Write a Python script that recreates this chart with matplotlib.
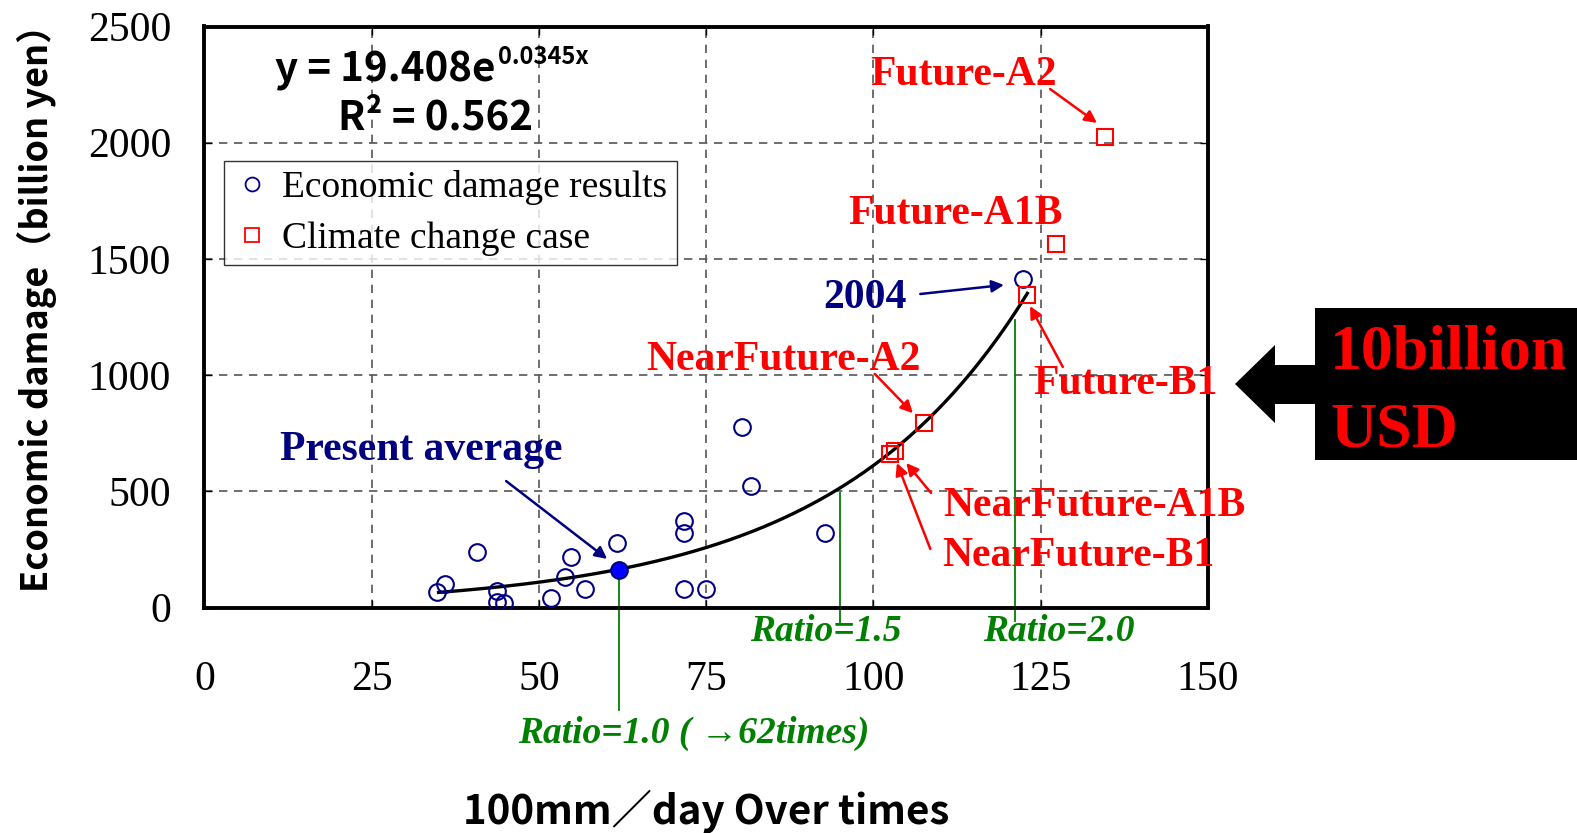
import numpy as np
import matplotlib.pyplot as plt
from matplotlib.lines import Line2D
from matplotlib.patches import Rectangle, Polygon

# observed flood damage (x: 100mm/day over times, y: billion yen)
damage_x = [34.7, 35.9, 40.7, 43.7, 43.7, 44.8, 51.8, 53.9, 54.8, 56.9,
            61.7, 71.7, 71.7, 71.7, 75.0, 80.3, 81.7, 92.8, 122.4]
damage_y = [68, 101, 239, 72, 25, 18, 40, 130, 216, 78,
            276, 373, 319, 78, 78, 778, 524, 319, 1412]

# present average (filled)
avg_x = 62.0
avg_y = 162

# climate change cases
case_names = ['Future-A2', 'Future-A1B', 'Future-B1',
              'NearFuture-A2', 'NearFuture-A1B', 'NearFuture-B1']
case_x = [134.6, 127.3, 123.0, 107.6, 103.2, 102.5]
case_y = [2023, 1565, 1345, 793, 673, 660]

# trend line y = a*exp(b*x)
fit_a = 19.408
fit_b = 0.0345
fit_range = [35.0, 123.0]

# ratio markers
ratio_labels = ['Ratio=1.0 ( \u219262times)', 'Ratio=1.5', 'Ratio=2.0']
ratio_x = [62.0, 95.0, 121.2]
ratio_top = [162, 494, 1237]
ratio_bottom = [-440, -70, -60]

xticks = [0, 25, 50, 75, 100, 125, 150]
yticks = [0, 500, 1000, 1500, 2000, 2500]

W, H = 1577, 833
fig = plt.figure(figsize=(W / 100, H / 100), dpi=100)
ax = fig.add_axes([204.4 / W, 1 - 607.5 / H, 1003.6 / W, 581 / H])

SERIF = 'Liberation Serif'
GOTHIC = 'Noto Sans CJK JP'

# trend line
xx = np.linspace(fit_range[0], fit_range[1], 200)
ax.plot(xx, fit_a * np.exp(fit_b * xx), color='black', lw=2.4, zorder=3)

# ratio lines
for rx, rt, rb in zip(ratio_x, ratio_top, ratio_bottom):
    ax.plot([rx, rx], [rb, rt], color='#008000', lw=1.3, clip_on=False, zorder=2)

ax.plot(damage_x, damage_y, 'o', ms=12, mfc='none', mec='#000080', mew=1.5, zorder=4)
ax.plot(case_x, case_y, 's', ms=12, mfc='none', mec='#ff0000', mew=1.5, zorder=4)
ax.plot([avg_x], [avg_y], 'o', ms=12, mfc='#0000ff', mec='#000080', mew=1.5, zorder=5)

ax.set_xlim(0, 150)
ax.set_ylim(0, 2500)
ax.set_xticks(xticks)
ax.set_yticks(yticks)
ax.tick_params(direction='in', length=6, width=1, top=True, right=True)
ax.tick_params(axis='x', pad=38)
ax.tick_params(axis='y', pad=24)
for lab in ax.get_xticklabels() + ax.get_yticklabels():
    lab.set_fontfamily(SERIF)
    lab.set_fontsize(30)
ax.grid(True, color='#555555', lw=1.2, linestyle=(0, (5, 4)))
for s in ax.spines.values():
    s.set_linewidth(2.8)

ax.set_xlabel('100mm\uff0fday Over times', family=GOTHIC, fontsize=29,
              fontweight='bold', va='center')
ax.xaxis.set_label_coords(0.5, -0.35)
ax.set_ylabel('Economic damage\uff08billion yen\uff09', family=GOTHIC,
              fontsize=26, fontweight='bold', va='center')
ax.yaxis.set_label_coords(-0.167, 0.53)

# equation
ax.text(0.2896, 0.925, 'y = 19.408e', transform=ax.transAxes, ha='right',
        va='center', family=GOTHIC, fontsize=29, fontweight='bold')
ax.text(0.2925, 0.948, '0.0345x', transform=ax.transAxes, ha='left',
        va='center', family=GOTHIC, fontsize=17, fontweight='bold')
ax.text(0.2307, 0.8425, 'R\u00b2 = 0.562', transform=ax.transAxes, ha='center',
        va='center', family=GOTHIC, fontsize=29, fontweight='bold')

handles = [Line2D([], [], ls='none', marker='o', ms=10, mfc='none', mec='#000080', mew=1.3),
           Line2D([], [], ls='none', marker='s', ms=10, mfc='none', mec='#ff0000', mew=1.3)]
leg = ax.legend(handles, ['Economic damage results', 'Climate change case'],
                loc='upper left', bbox_to_anchor=(0.0195, 0.7685), borderaxespad=0,
                prop={'family': SERIF, 'size': 27}, frameon=True, fancybox=False,
                handletextpad=0.3, handlelength=1.0, borderpad=0.25, labelspacing=0.42)
leg.get_frame().set_edgecolor('black')
leg.get_frame().set_linewidth(1.0)

bold = dict(family=SERIF, fontweight='bold', fontsize=30, ha='center', va='center')


def note(text, pos, color, tail=None, head=None):
    ax.text(pos[0], pos[1], text, color=color, clip_on=False, zorder=6, **bold)
    if tail is not None:
        ax.annotate('', xy=head, xytext=tail, annotation_clip=False,
                    arrowprops=dict(arrowstyle='-|>', color=color, lw=1.8,
                                    mutation_scale=18, shrinkA=0, shrinkB=0))


note('Present average', (32.4, 678), '#000080', (45.1, 544), (60.2, 209))
note('2004', (98.7, 1332), '#000080', (107.0, 1349), (119.5, 1388))
note('Future-A2', (113.4, 2291), 'red', (126.4, 2231), (133.4, 2085))
note('Future-A1B', (112.2, 1693), 'red')
note('Future-B1', (137.7, 962), 'red', (128.3, 1035), (123.4, 1297))
note('NearFuture-A2', (86.6, 1065), 'red', (100.2, 1005), (105.9, 836))
note('NearFuture-A1B', (133.0, 437), 'red', (108.6, 493), (104.9, 622))
note('NearFuture-B1', (130.7, 222), 'red', (108.5, 252), (103.5, 622))

ratio_pos = [(73.1, -540), (92.9, -105), (127.7, -105)]
for lab, p in zip(ratio_labels, ratio_pos):
    ax.text(p[0], p[1], lab, color='#008000', family=SERIF, fontweight='bold',
            style='italic', fontsize=27, ha='center', va='center', clip_on=False)


# 10 billion USD box with arrow
def fx(px):
    return px / W


def fy(py):
    return 1 - py / H


fig.patches.append(Rectangle((fx(1315), fy(460)), fx(1577) - fx(1315), fy(308) - fy(460),
                             transform=fig.transFigure, facecolor='black', edgecolor='none'))
arrow_pts = [(1235, 384), (1275, 345), (1275, 365), (1316, 365),
             (1316, 404), (1275, 404), (1275, 423)]
fig.patches.append(Polygon([(fx(a), fy(b)) for a, b in arrow_pts], closed=True,
                           transform=fig.transFigure, facecolor='black', edgecolor='none'))
fig.text(fx(1330), fy(369), '10billion', color='red', family=SERIF, fontweight='bold',
         fontsize=46, ha='left', va='baseline')
fig.text(fx(1330), fy(447), 'USD', color='red', family=SERIF, fontweight='bold',
         fontsize=46, ha='left', va='baseline')

fig.savefig('out.png', dpi=100, facecolor='white')
